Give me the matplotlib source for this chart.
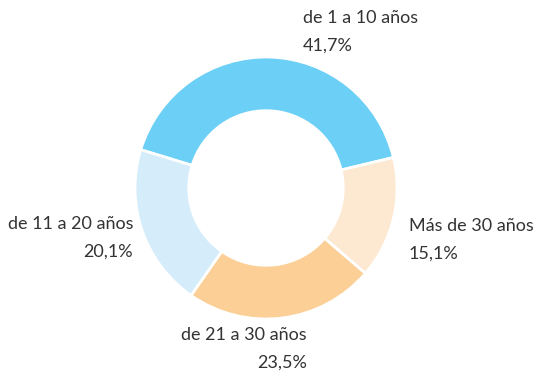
import matplotlib.pyplot as plt

# Antigüedad distribution
categories = ["de 1 a 10 años", "Más de 30 años", "de 21 a 30 años", "de 11 a 20 años"]
shares = [41.7, 15.1, 23.5, 20.1]
colors = ["#6ccff6", "#fde9d1", "#fbcf96", "#d5edfa"]

W, H = 533, 382
fig = plt.figure(figsize=(W / 100, H / 100), dpi=100)
ax = fig.add_axes([0, 0, 1, 1])

cx, cy, r = 266, 194, 131
ax.pie(shares, colors=colors, startangle=163, counterclock=False,
       center=(cx, cy), radius=r,
       wedgeprops=dict(width=r * 0.41, edgecolor="white", linewidth=2))

ax.set_xlim(0, W)
ax.set_ylim(0, H)
ax.set_aspect("equal")
ax.axis("off")

# label anchor (x, y of first line, alignment) for each slice
anchors = [(303, 364, "left"), (409, 156, "left"), (307, 47, "right"), (133, 158, "right")]
txt = dict(fontsize=13, color="#333333", family="Lato", va="center")
for name, val, (x, y, ha) in zip(categories, shares, anchors):
    ax.text(x, y, name, ha=ha, **txt)
    ax.text(x, y - 28, f"{val:.1f}%".replace(".", ","), ha=ha, **txt)

fig.savefig("out.png", dpi=100)
